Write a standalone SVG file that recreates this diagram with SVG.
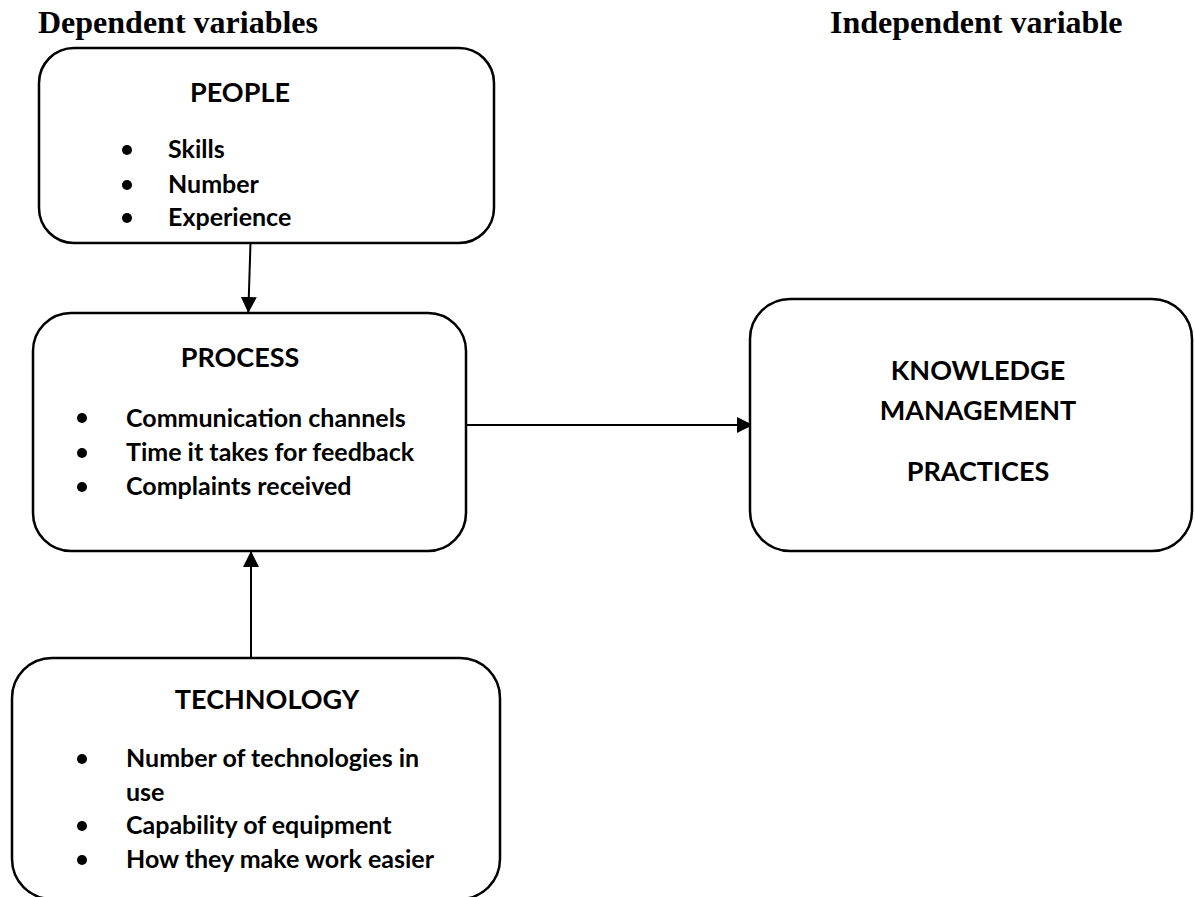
<svg xmlns="http://www.w3.org/2000/svg" width="1195" height="897" viewBox="0 0 1195 897">
  <style>
    .box { fill: #fff; stroke: #000; stroke-width: 2.5; }
    .head { font-family: "Liberation Serif", "Times New Roman", serif; font-weight: bold; font-size: 32px; fill: #000; }
    .title { font-family: Lato, "Open Sans", sans-serif; font-weight: bold; font-size: 27px; fill: #000; text-anchor: middle; }
    .item { font-family: Lato, "Open Sans", sans-serif; font-weight: bold; font-size: 25px; fill: #000; }
    .dot { fill: #000; }
    .link { stroke: #000; stroke-width: 2; fill: none; }
  </style>
  <defs>
    <marker id="arrow" viewBox="0 0 16 16" refX="16" refY="8" markerWidth="16" markerHeight="16" markerUnits="userSpaceOnUse" orient="auto">
      <path d="M0,0 L16,8 L0,16 Z" fill="#000"/>
    </marker>
  </defs>

  <rect width="1195" height="897" fill="#fff"/>

  <text class="head" x="38" y="33">Dependent variables</text>
  <text class="head" x="830" y="33">Independent variable</text>

  <!-- connectors -->
  <g id="connectors">
    <line class="link" x1="250.5" y1="243" x2="248.3" y2="313" marker-end="url(#arrow)"/>
    <line class="link" x1="251" y1="658" x2="251" y2="551" marker-end="url(#arrow)"/>
    <line class="link" x1="467" y1="425" x2="753" y2="425" marker-end="url(#arrow)"/>
  </g>

  <g id="people">
    <rect class="box" x="39" y="48" width="455" height="195" rx="35" ry="35"/>
    <text class="title" x="240" y="102">PEOPLE</text>
    <circle class="dot" cx="127" cy="150" r="5"/>
    <circle class="dot" cx="127" cy="185" r="5"/>
    <circle class="dot" cx="127" cy="218" r="5"/>
    <text class="item" x="168" y="158">Skills</text>
    <text class="item" x="168" y="193">Number</text>
    <text class="item" x="168" y="226">Experience</text>
  </g>

  <g id="process">
    <rect class="box" x="33" y="313" width="433" height="238" rx="38" ry="38"/>
    <text class="title" x="240" y="367">PROCESS</text>
    <circle class="dot" cx="82" cy="418" r="5"/>
    <circle class="dot" cx="82" cy="453" r="5"/>
    <circle class="dot" cx="82" cy="487" r="5"/>
    <text class="item" x="126" y="427">Communication channels</text>
    <text class="item" x="126" y="461">Time it takes for feedback</text>
    <text class="item" x="126" y="495">Complaints received</text>
  </g>

  <g id="technology">
    <rect class="box" x="12" y="658" width="488" height="241" rx="40" ry="40"/>
    <text class="title" x="267" y="709">TECHNOLOGY</text>
    <circle class="dot" cx="82" cy="759" r="5"/>
    <circle class="dot" cx="82" cy="826" r="5"/>
    <circle class="dot" cx="82" cy="860" r="5"/>
    <text class="item" x="126" y="767">Number of technologies in</text>
    <text class="item" x="126" y="801">use</text>
    <text class="item" x="126" y="834">Capability of equipment</text>
    <text class="item" x="126" y="868">How they make work easier</text>
  </g>

  <g id="knowledge-management">
    <rect class="box" x="750" y="299" width="442" height="252" rx="40" ry="40"/>
    <text class="title" x="978" y="380">KNOWLEDGE</text>
    <text class="title" x="978" y="420">MANAGEMENT</text>
    <text class="title" x="978" y="481">PRACTICES</text>
  </g>
</svg>
